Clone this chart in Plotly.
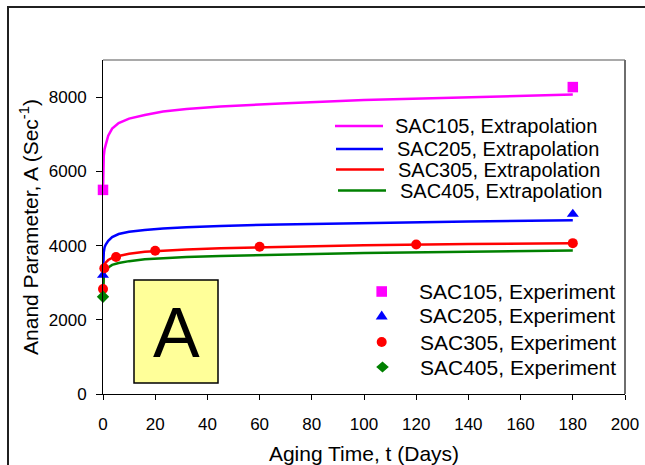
import plotly.graph_objects as go

# Aging time grid of the fitted (extrapolation) curves, days
t_fit = [0, 0.1, 0.3, 0.6, 1, 2, 3.5, 6, 10, 16, 23, 32, 45, 68, 100, 140, 180]

# Fitted Anand parameter A (1/s) for each alloy
sac105_fit = [5500, 6100, 6420, 6600, 6720, 6960, 7150, 7300, 7420, 7520, 7610, 7680, 7750, 7830, 7920, 8000, 8070]
sac205_fit = [3200, 3600, 3820, 3950, 4020, 4130, 4230, 4310, 4370, 4420, 4460, 4490, 4530, 4570, 4610, 4650, 4680]
sac305_fit = [2830, 3150, 3380, 3480, 3540, 3610, 3670, 3720, 3780, 3830, 3865, 3895, 3930, 3970, 4010, 4040, 4065]
sac405_fit = [2620, 2950, 3170, 3280, 3340, 3410, 3480, 3530, 3580, 3630, 3660, 3690, 3720, 3760, 3800, 3835, 3865]

# Experimental points
t_105 = [0, 180]
a_105 = [5500, 8270]
t_205 = [0, 180]
a_205 = [3200, 4850]
t_305 = [0, 0.5, 5, 20, 60, 120, 180]
a_305 = [2830, 3390, 3690, 3860, 3970, 4030, 4065]
t_405 = [0]
a_405 = [2620]

x_ticks = [0, 20, 40, 60, 80, 100, 120, 140, 160, 180, 200]
y_ticks = [0, 2000, 4000, 6000, 8000]

alloys = ["SAC105", "SAC205", "SAC305", "SAC405"]
colors = ["#FF00FF", "#0000FF", "#FF0000", "#008000"]
fits = [sac105_fit, sac205_fit, sac305_fit, sac405_fit]
exp_t = [t_105, t_205, t_305, t_405]
exp_a = [a_105, a_205, a_305, a_405]
symbols = ["square", "triangle-up", "circle", "diamond"]
sizes = [10.5, 10.5, 10, 9.5]

FONT = "Arial, Liberation Sans, sans-serif"

# Plot-area geometry (pixels)
FIG_W, FIG_H = 645, 465
L, R, T, B = 103, 20, 60, 71
W = FIG_W - L - R
H = FIG_H - T - B


def px_x(px):
    return (px - L) / W


def px_y(py):
    return (T + H - py) / H


fig = go.Figure()

for name, col, ys in zip(alloys, colors, fits):
    fig.add_trace(go.Scatter(
        x=t_fit, y=ys, mode="lines", name=f"{name}, Extrapolation",
        line=dict(color=col, width=2.5), showlegend=False,
    ))

for name, col, tx, ay, sym, sz in zip(alloys, colors, exp_t, exp_a, symbols, sizes):
    fig.add_trace(go.Scatter(
        x=tx, y=ay, mode="markers", name=f"{name}, Experiment",
        marker=dict(color=col, symbol=sym, size=sz, line=dict(width=0)),
        cliponaxis=False, showlegend=False,
    ))

shapes = []
annotations = []

# Outer chart frame
shapes.append(dict(type="rect", xref="paper", yref="paper",
                   x0=px_x(8), x1=px_x(720), y0=px_y(7), y1=px_y(540),
                   line=dict(color="#202020", width=2), fillcolor="rgba(0,0,0,0)"))
# Plot-area border (top and right)
shapes.append(dict(type="line", xref="paper", yref="paper", x0=0, x1=1, y0=1, y1=1,
                   line=dict(color="#8c8c8c", width=1.5)))
shapes.append(dict(type="line", xref="paper", yref="paper", x0=1, x1=1, y0=0, y1=1,
                   line=dict(color="#6e6e6e", width=2)))

# Panel label box
shapes.append(dict(type="rect", xref="paper", yref="paper",
                   x0=px_x(134), x1=px_x(218), y0=px_y(383), y1=px_y(280),
                   line=dict(color="black", width=1.5), fillcolor="#FFFF99", layer="above"))
annotations.append(dict(text="A", xref="paper", yref="paper", x=px_x(176), y=px_y(333),
                        xanchor="center", yanchor="middle", showarrow=False,
                        font=dict(family=FONT, size=70, color="black")))

# Legend for fitted curves
leg1_rows = [
    (126, 335, 383, 393),
    (149, 336, 383, 395),
    (169.5, 336, 384, 396),
    (190.5, 338, 386, 397.5),
]
for name, col, (ry, lx0, lx1, tx) in zip(alloys, colors, leg1_rows):
    shapes.append(dict(type="line", xref="paper", yref="paper",
                       x0=px_x(lx0), x1=px_x(lx1), y0=px_y(ry), y1=px_y(ry),
                       line=dict(color=col, width=2.5)))
    annotations.append(dict(text=f"{name}, Extrapolation", xref="paper", yref="paper",
                            x=px_x(tx), y=px_y(ry), xanchor="left", yanchor="middle",
                            showarrow=False, font=dict(family=FONT, size=20, color="black")))

# Legend for experimental points
leg2_rows = [
    (291.5, 381.7, 417.3),
    (315.5, 381.7, 416.7),
    (342, 381.7, 417.7),
    (367, 382.5, 417.7),
]
marker_paths = [
    None,
    "M-6,-4 L6,-4 L0,5 Z",
    None,
    "M0,-5.5 L6.3,0 L0,5.5 L-6.3,0 Z",
]
for i, (name, col, (ry, mx, tx)) in enumerate(zip(alloys, colors, leg2_rows)):
    base = dict(xref="paper", yref="paper", xsizemode="pixel", ysizemode="pixel",
                xanchor=px_x(mx), yanchor=px_y(ry), fillcolor=col,
                line=dict(color=col, width=0))
    if i == 0:
        shapes.append(dict(type="rect", x0=-5.3, x1=5.3, y0=-5.3, y1=5.3, **base))
    elif i == 2:
        shapes.append(dict(type="circle", x0=-5, x1=5, y0=-5, y1=5, **base))
    else:
        shapes.append(dict(type="path", path=marker_paths[i], **base))
    annotations.append(dict(text=f"{name}, Experiment", xref="paper", yref="paper",
                            x=px_x(tx), y=px_y(ry), xanchor="left", yanchor="middle",
                            showarrow=False, font=dict(family=FONT, size=21, color="black")))

fig.update_layout(
    width=FIG_W, height=FIG_H,
    margin=dict(l=L, r=R, t=T, b=B, autoexpand=False),
    paper_bgcolor="white", plot_bgcolor="white",
    font=dict(family=FONT, color="black"),
    showlegend=False,
    shapes=shapes, annotations=annotations,
    xaxis=dict(
        range=[0, 200], tickvals=x_ticks, ticktext=[str(v) for v in x_ticks],
        showgrid=False, zeroline=False, showline=True, linecolor="black", linewidth=1,
        ticks="outside", ticklen=5, tickcolor="black", tickwidth=1,
        tickfont=dict(family=FONT, size=17, color="black"), ticklabelstandoff=10,
        title=dict(text="Aging Time, t (Days)", font=dict(family=FONT, size=21, color="black"),
                   standoff=12),
        automargin=False,
    ),
    yaxis=dict(
        range=[0, 9000], tickvals=y_ticks, ticktext=[str(v) for v in y_ticks],
        showgrid=False, zeroline=False, showline=True, linecolor="black", linewidth=1,
        ticks="outside", ticklen=6, tickcolor="black", tickwidth=1,
        tickfont=dict(family=FONT, size=17, color="black"), ticklabelstandoff=6,
        title=dict(text="Anand Parameter, A (Sec<sup>-1</sup>)",
                   font=dict(family=FONT, size=21, color="black"), standoff=4),
        automargin=False,
    ),
)

fig.write_html("out.html")
